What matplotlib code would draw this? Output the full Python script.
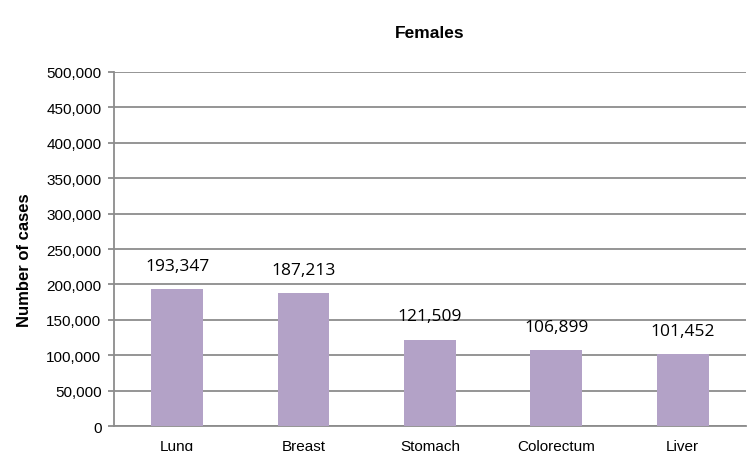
import matplotlib
matplotlib.use("Agg")
import matplotlib.pyplot as plt
from matplotlib.ticker import FuncFormatter, MultipleLocator

# данные
sites = ["Lung", "Breast", "Stomach", "Colorectum", "Liver"]
cases = [193347, 187213, 121509, 106899, 101452]

bar_color = "#b3a2c7"
grid_color = "#8c8c8c"

plt.rcParams["font.family"] = ["Liberation Sans", "DejaVu Sans"]

fig = plt.figure(figsize=(7.47, 4.52), dpi=100)
ax = fig.add_axes([0.1526, 0.0553, 0.846, 0.7832])

x = range(len(sites))
bars = ax.bar(x, cases, width=0.41, color=bar_color, zorder=3)

# подписи значений над столбцами
for b, v in zip(bars, cases):
    ax.annotate("{:,}".format(v), (b.get_x() + b.get_width() / 2, v),
                xytext=(0, 17), textcoords="offset points",
                ha="center", va="center", fontsize=12.5,
                family=["Open Sans", "DejaVu Sans"], color="black")

ax.set_xlim(-0.5, len(sites) - 0.5)
ax.set_ylim(0, 500000)
ax.yaxis.set_major_locator(MultipleLocator(50000))
ax.yaxis.set_major_formatter(FuncFormatter(lambda v, p: "{:,}".format(int(v))))
ax.set_xticks(list(x))
ax.set_xticklabels(sites)

ax.grid(axis="y", color=grid_color, linewidth=1.3, zorder=0)
for s in ["top", "right"]:
    ax.spines[s].set_visible(False)
for s in ["left", "bottom"]:
    ax.spines[s].set_color(grid_color)
    ax.spines[s].set_linewidth(1.3)

ax.tick_params(axis="y", length=4, color=grid_color, width=1.3, labelsize=11, pad=5)
ax.tick_params(axis="x", length=0, labelsize=11, pad=9)

ax.set_ylabel("Number of cases", fontsize=12, fontweight="bold")
ax.yaxis.set_label_coords(-0.141, 0.472)
ax.yaxis.label.set_va("center")
ax.set_title("Females", fontsize=12.5, fontweight="bold", pad=25)

fig.savefig("out.png", dpi=100)
